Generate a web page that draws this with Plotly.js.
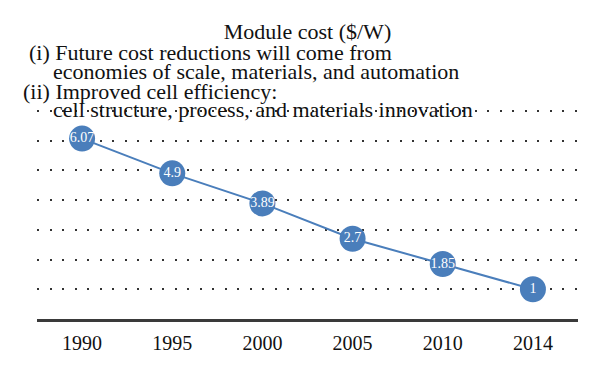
<!DOCTYPE html>
<html>
<head>
<meta charset="utf-8">
<script src="https://cdn.plot.ly/plotly-3.0.1.min.js"></script>
<style>html,body{margin:0;padding:0;background:#fff;}#chart{width:600px;height:366px;}</style>
</head>
<body>
<div id="chart"></div>
<script>
const years = ["1990", "1995", "2000", "2005", "2010", "2014"];
const moduleCost = [6.07, 4.9, 3.89, 2.7, 1.85, 1];
const valueLabels = ["6.07", "4.9", "3.89", "2.7", "1.85", "1"];
const titleText = "Module cost ($/W)";
const noteLines = [
  "(i) Future cost reductions will come from",
  "economies of scale, materials, and automation",
  "(ii) Improved cell efficiency:",
  "cell structure, process, and materials innovation"
];

const serif = "Liberation Serif, Times New Roman, serif";

const trace = {
  x: years,
  y: moduleCost,
  type: "scatter",
  mode: "lines+markers+text",
  text: valueLabels,
  textposition: "middle center",
  textfont: {family: serif, size: 14, color: "#ffffff"},
  line: {color: "#4a7ebb", width: 2},
  marker: {size: 26, color: "#4a7ebb", line: {width: 0}},
  cliponaxis: false,
  hoverinfo: "skip"
};

const L = 37, R = 22, T = 105, B = 47;
const PW = 600 - L - R, PH = 366 - T - B;

const layout = {
  width: 600,
  height: 366,
  margin: {l: L, r: R, t: T, b: B},
  paper_bgcolor: "#ffffff",
  plot_bgcolor: "#ffffff",
  showlegend: false,
  title: {
    text: titleText,
    font: {family: serif, size: 22, color: "#111"},
    x: 0.5, xref: "paper", xanchor: "center",
    y: 1 - 31 / 366, yref: "container", yanchor: "middle"
  },
  xaxis: {
    type: "category",
    range: [-0.5, 5.5],
    showline: true,
    linecolor: "#3a3a3a",
    linewidth: 2.5,
    showgrid: false,
    zeroline: false,
    ticks: "",
    ticklabelstandoff: 4,
    tickfont: {family: serif, size: 20, color: "#111"}
  },
  yaxis: {
    range: [0, 7.2],
    dtick: 1,
    showticklabels: false,
    showline: false,
    zeroline: false,
    showgrid: true,
    gridcolor: "#333",
    gridwidth: 2,
    griddash: "2px,10.5px",
    ticks: ""
  },
  annotations: [
    {text: noteLines[0], x: 27, y: 53},
    {text: noteLines[1], x: 51, y: 72},
    {text: noteLines[2], x: 21, y: 91},
    {text: noteLines[3], x: 51, y: 110}
  ].map(a => ({
    text: a.text,
    xref: "paper", yref: "paper",
    x: (a.x - L) / PW,
    y: (366 - B - a.y) / PH,
    xanchor: "left", yanchor: "middle",
    showarrow: false,
    font: {family: serif, size: 22, color: "#111"}
  }))
};

Plotly.newPlot("chart", [trace], layout, {staticPlot: true});
</script>
</body>
</html>
